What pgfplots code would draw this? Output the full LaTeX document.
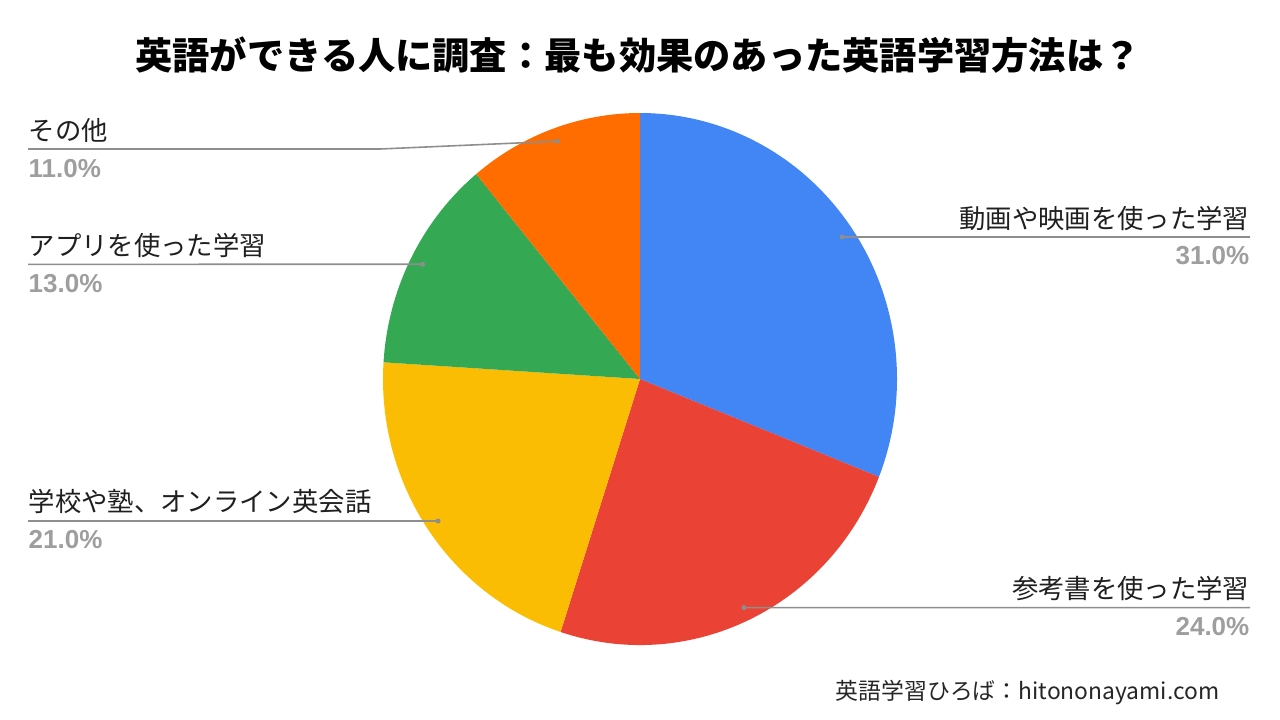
\documentclass[border=0pt]{standalone}
\usepackage{pgfplots}
\pgfplotsset{compat=1.18}
\usepackage{pgfplotstable}
\usepackage{fontspec}
\setmainfont{Noto Sans CJK JP}
\newfontfamily\pctfont{Liberation Sans}

\definecolor{sl0}{HTML}{4285F4}
\definecolor{sl1}{HTML}{EA4335}
\definecolor{sl2}{HTML}{FBBC04}
\definecolor{sl3}{HTML}{34A853}
\definecolor{sl4}{HTML}{FF6D01}
\definecolor{leader}{HTML}{8E8E8E}
\definecolor{pctgray}{HTML}{9E9E9E}

% value in %, ly = leader line height, bx = bend x, ex = end x (pixel units)
\pgfplotstableread[col sep=comma]{
name,value,ly,bx,ex
動画や映画を使った学習,31,483,1250,1250
参考書を使った学習,24,112.4,1250,1250
学校や塾、オンライン英会話,21,199,28,28
アプリを使った学習,13,455.7,28,28
その他,11,571,380,28
}\piedata

\begin{document}
\begin{tikzpicture}
\begin{axis}[
  width=12.8cm, height=7.2cm, scale only axis,
  xmin=0, xmax=1280, ymin=0, ymax=720,
  hide axis, clip=false,
]
\path (axis cs:0,0) rectangle (axis cs:1280,720);

% slices (pie is drawn slightly squeezed: 257 x 266 px)
\def\cum{0}
\pgfplotsforeachungrouped \i in {0,...,4}{%
  \pgfplotstablegetelem{\i}{value}\of\piedata \let\v\pgfplotsretval
  \pgfmathsetmacro\a{90-3.6*\cum}
  \pgfmathsetmacro\b{90-3.6*(\cum+\v)}
  \pgfmathsetmacro\sx{640+257*cos(\a)}
  \pgfmathsetmacro\sy{341+266*sin(\a)}
  \pgfmathsetmacro\cum{\cum+\v}
  \edef\temp{\noexpand\fill[sl\i] (axis cs:640,341) -- (axis cs:\sx,\sy)
    arc[start angle=\a, end angle=\b, x radius=2.57cm, y radius=2.66cm] -- cycle;}
  \temp
}

% leader lines and labels
\def\cum{0}
\pgfplotsforeachungrouped \i in {0,...,4}{%
  \pgfplotstablegetelem{\i}{value}\of\piedata \let\v\pgfplotsretval
  \pgfplotstablegetelem{\i}{name}\of\piedata \let\nm\pgfplotsretval
  \pgfplotstablegetelem{\i}{ly}\of\piedata \let\ly\pgfplotsretval
  \pgfplotstablegetelem{\i}{bx}\of\piedata \let\bx\pgfplotsretval
  \pgfplotstablegetelem{\i}{ex}\of\piedata \let\ex\pgfplotsretval
  \pgfmathsetmacro\m{90-3.6*(\cum+\v/2)}
  \pgfmathsetmacro\px{640+0.95*257*cos(\m)}
  \pgfmathsetmacro\py{341+0.95*266*sin(\m)}
  \pgfmathsetmacro\cum{\cum+\v}
  \pgfmathsetmacro\lt{\ly+9}
  \pgfmathsetmacro\lb{\ly-28}
  \ifdim\ex pt>640pt \def\side{east}\else\def\side{west}\fi
  \edef\temp{%
    \noexpand\draw[leader, line width=0.45pt] (axis cs:\px,\py) -- (axis cs:\bx,\ly) -- (axis cs:\ex,\ly);
    \noexpand\fill[leader] (axis cs:\px,\py) circle[radius=0.025cm];
    \noexpand\node[anchor=base \side, inner sep=0pt, text=black!88,
      font=\noexpand\fontsize{7.5pt}{8pt}\noexpand\selectfont] at (axis cs:\ex,\lt) {\nm};
    \noexpand\node[anchor=base \side, inner sep=0pt, text=pctgray,
      font=\noexpand\pctfont\noexpand\bfseries\noexpand\fontsize{7.4pt}{8pt}\noexpand\selectfont] at (axis cs:\ex,\lb) {\v.0\noexpand\%};
  }
  \temp
}

\node[font=\fontsize{10.6pt}{12pt}\selectfont\bfseries, inner sep=0pt] at (axis cs:638,665)
  {英語ができる人に調査：最も効果のあった英語学習方法は？};
\node[anchor=east, inner sep=0pt, text=black!85, font=\fontsize{6.5pt}{8pt}\selectfont] at (axis cs:1220,27)
  {英語学習ひろば：hitononayami.com};
\end{axis}
\end{tikzpicture}
\end{document}
